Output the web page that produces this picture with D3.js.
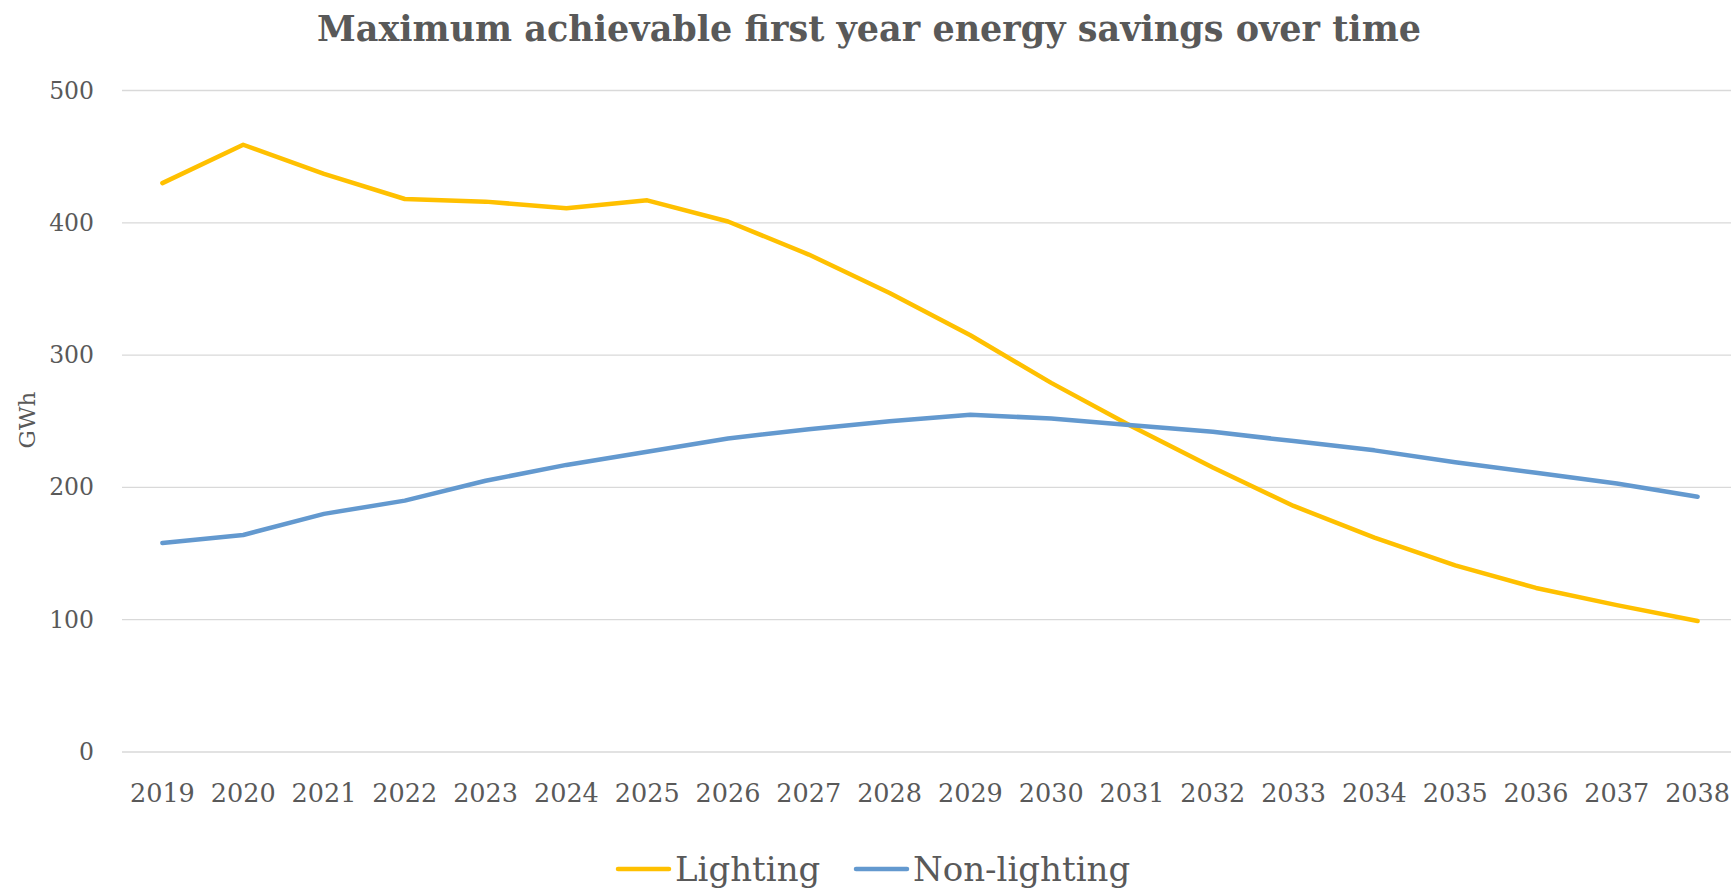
<!DOCTYPE html>
<html><head><meta charset="utf-8">
<script src="https://cdn.jsdelivr.net/npm/d3@7"></script>
<style>
html,body{margin:0;padding:0;background:#fff;}
text{font-family:"Palatino Linotype","Book Antiqua",Palatino,"DejaVu Serif",serif;fill:#595959;}
</style></head>
<body>
<svg id="chart" width="1731" height="891"></svg>
<script>
const years = ["2019","2020","2021","2022","2023","2024","2025","2026","2027","2028","2029","2030","2031","2032","2033","2034","2035","2036","2037","2038"];
const lighting = [430,459,437,418,416,411,417,401,376,347,315,279,246,215,186,162,141,124,111,99];
const nonLighting = [158,164,180,190,205,217,227,237,244,250,255,252,247,242,235,228,219,211,203,193];
const yTicks = [0,100,200,300,400,500];
const seriesNames = ["Lighting","Non-lighting"];
const seriesColors = ["#FFC000","#6399CF"];
const titleText = "Maximum achievable first year energy savings over time";
const yLabel = "GWh";

const svg = d3.select("#chart");
const W = 1731, H = 891;
const m = {left:122, right:-7, top:90.5, bottom:891-752};

const x = d3.scaleBand().domain(years).range([m.left, W - m.right]).padding(0);
const y = d3.scaleLinear().domain([0,500]).range([H - m.bottom, m.top]);

// gridlines
svg.append("g").selectAll("line").data(yTicks).join("line")
  .attr("x1", m.left).attr("x2", W - m.right)
  .attr("y1", d=>y(d)).attr("y2", d=>y(d))
  .attr("stroke","#d9d9d9").attr("stroke-width",1.3);

// y axis
const yAxis = svg.append("g").attr("transform",`translate(${m.left-28},0)`)
  .call(d3.axisLeft(y).tickValues(yTicks).tickSize(0).tickPadding(0));
yAxis.select(".domain").remove();
yAxis.selectAll("text").attr("font-size",23.5).attr("font-family",null);

// x axis
const xAxis = svg.append("g").attr("transform",`translate(0,${y(0)})`)
  .call(d3.axisBottom(x).tickSize(0).tickPadding(32));
xAxis.select(".domain").remove();
xAxis.selectAll("text").attr("font-size",25.5).attr("font-family",null);

// lines
const line = d3.line().x((d,i)=>x(years[i]) + x.bandwidth()/2).y(d=>y(d));
[lighting, nonLighting].forEach((s,k)=>{
  svg.append("path").datum(s).attr("d",line)
    .attr("fill","none").attr("stroke",seriesColors[k])
    .attr("stroke-width",4.5).attr("stroke-linejoin","round").attr("stroke-linecap","round");
});

// title
svg.append("text").attr("x",869).attr("y",41).attr("text-anchor","middle")
  .attr("font-size",35).attr("font-weight","bold").text(titleText);

// y label
svg.append("text").attr("transform","translate(35,420) rotate(-90)")
  .attr("text-anchor","middle").attr("font-size",23).text(yLabel);

// legend
const legX = [618, 856];
seriesNames.forEach((n,k)=>{
  const g = svg.append("g").attr("transform",`translate(${legX[k]},869)`);
  g.append("line").attr("x1",0).attr("x2",51).attr("y1",0).attr("y2",0)
    .attr("stroke",seriesColors[k]).attr("stroke-width",4.5).attr("stroke-linecap","round");
  g.append("text").attr("x",57).attr("y",12).attr("font-size",34).text(n);
});
</script>
</body></html>
